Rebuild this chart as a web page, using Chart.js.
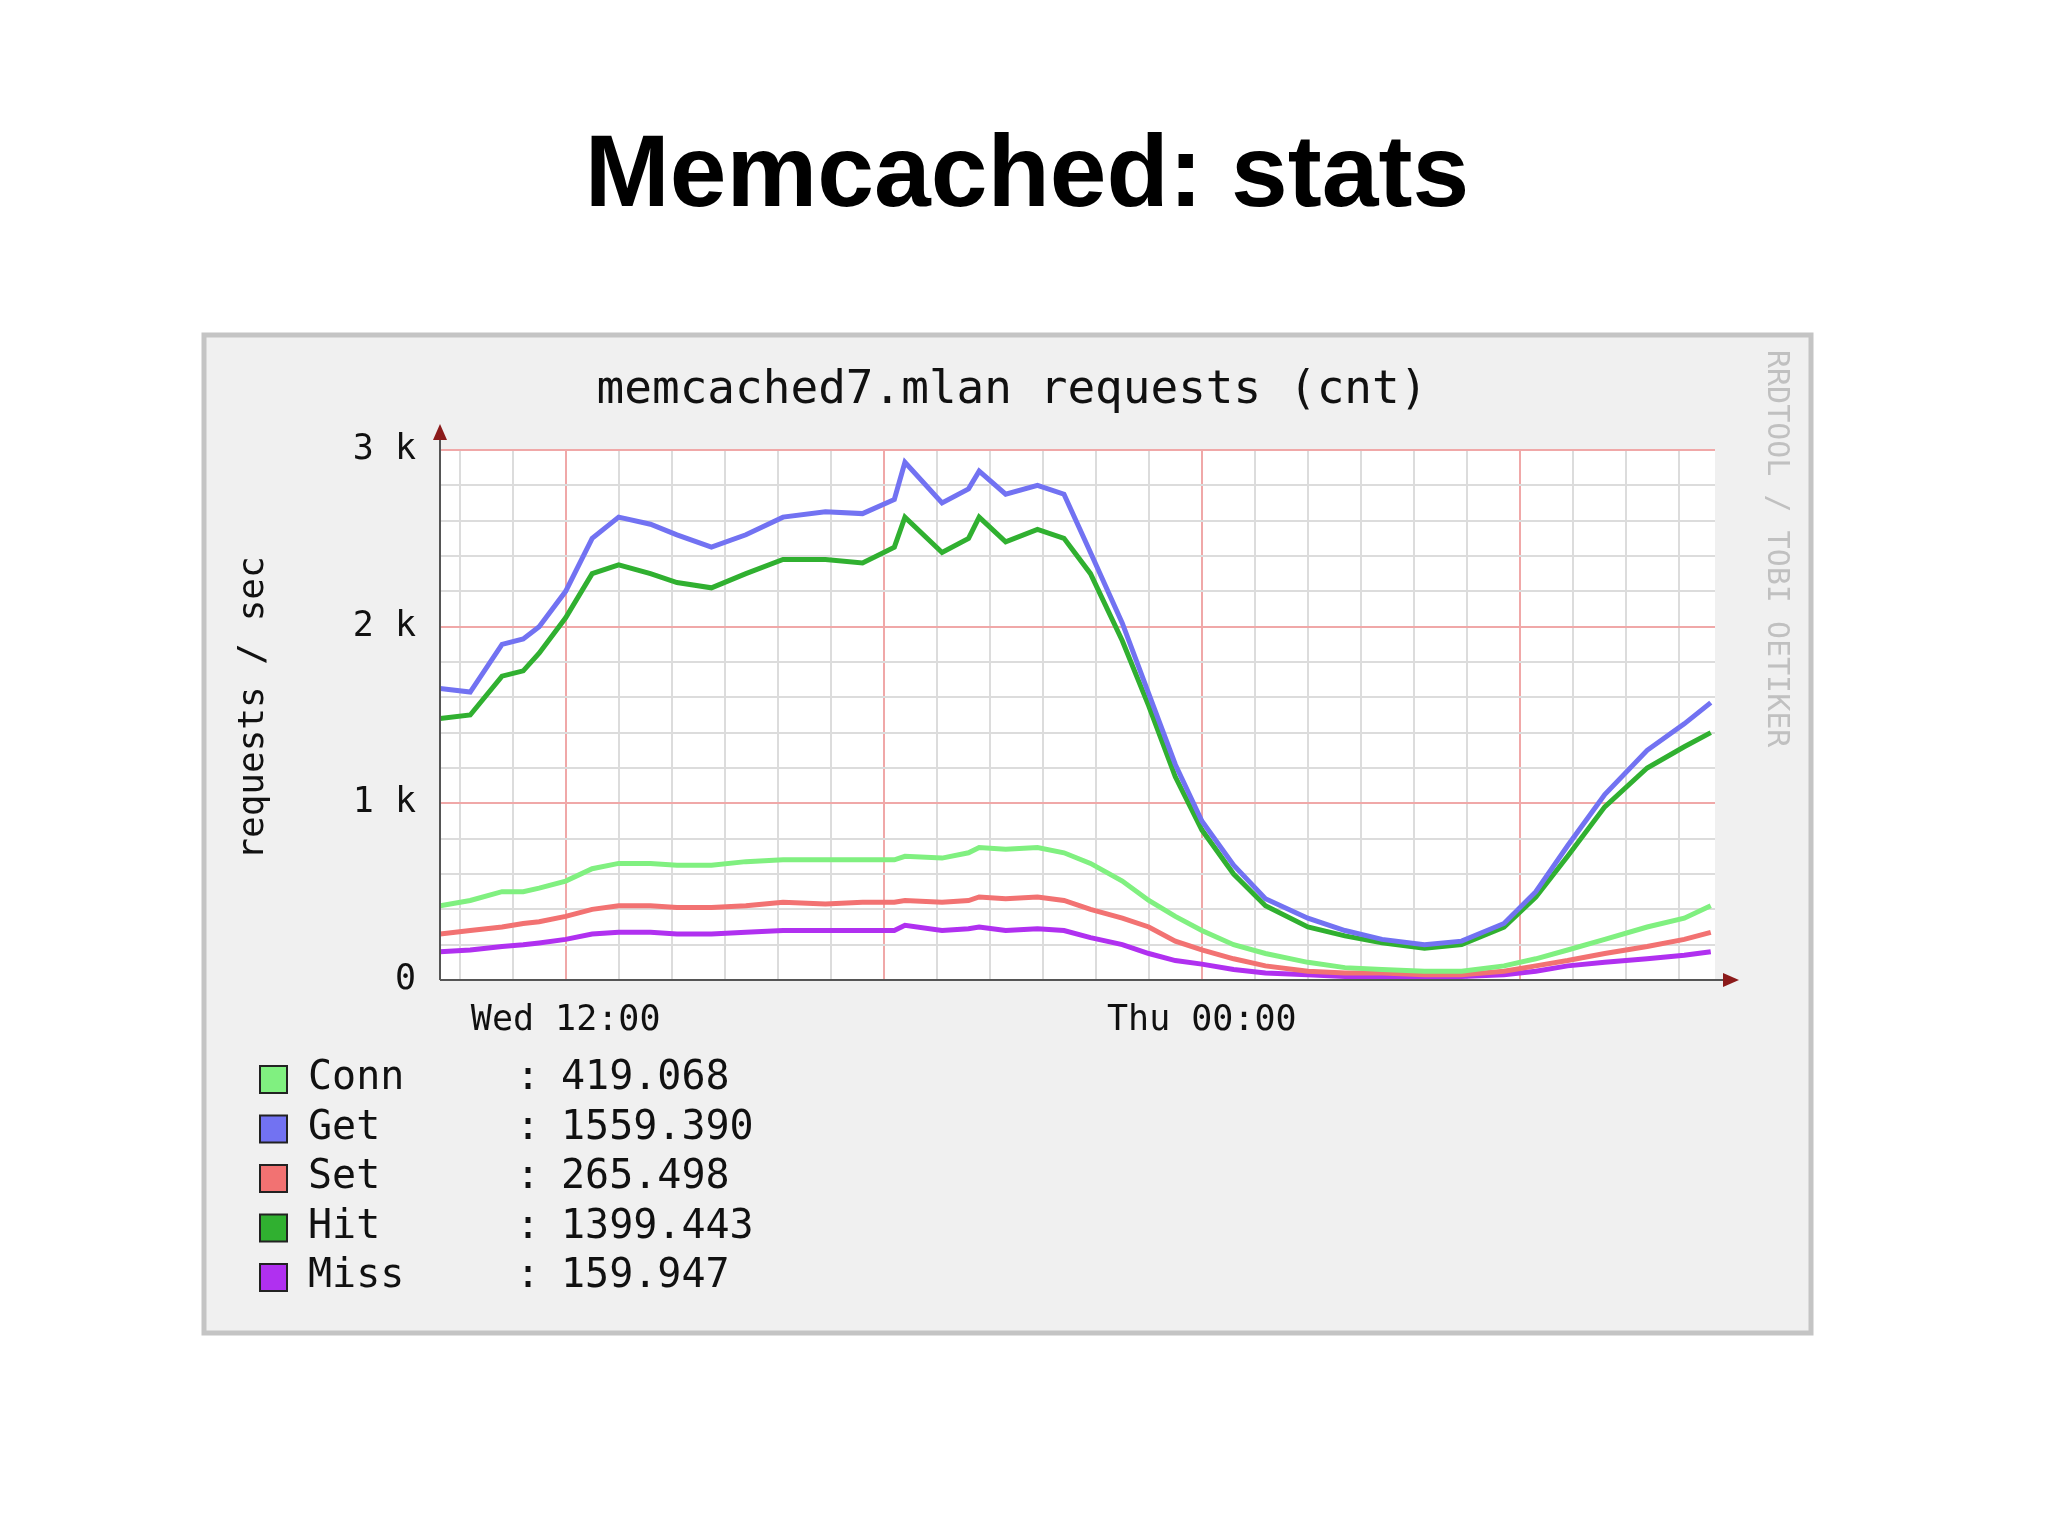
<!DOCTYPE html>
<html><head><meta charset="utf-8">
<script src="https://cdn.jsdelivr.net/npm/chart.js@4/dist/chart.umd.min.js"></script>
<style>html,body{margin:0;padding:0;background:#fff}#c{display:block}</style>
</head><body>
<div style="width:2048px;height:1536px"><canvas id="c"></canvas></div>
<script>
const hours = [9.63,10.2,10.8,11.2,11.5,12,12.5,13,13.6,14.1,14.75,15.4,16.1,16.9,17.6,18.2,18.4,19.1,19.6,19.8,20.3,20.9,21.4,21.9,22.5,23,23.5,24,24.6,25.2,26,26.7,27.4,28.2,28.9,29.7,30.3,30.9,31.6,32.4,33.1,33.6];
const getK  = [1.65,1.63,1.9,1.93,2.0,2.2,2.5,2.62,2.58,2.52,2.45,2.52,2.62,2.65,2.64,2.72,2.93,2.70,2.78,2.88,2.75,2.8,2.75,2.42,2.02,1.62,1.22,0.9,0.65,0.46,0.35,0.28,0.23,0.2,0.22,0.32,0.5,0.76,1.05,1.3,1.45,1.57];
const hitK  = [1.48,1.5,1.72,1.75,1.85,2.05,2.3,2.35,2.3,2.25,2.22,2.3,2.38,2.38,2.36,2.45,2.62,2.42,2.5,2.62,2.48,2.55,2.5,2.3,1.92,1.55,1.15,0.85,0.6,0.42,0.3,0.25,0.21,0.18,0.2,0.3,0.47,0.7,0.98,1.2,1.32,1.4];
const connK = [0.42,0.45,0.5,0.5,0.52,0.56,0.63,0.66,0.66,0.65,0.65,0.67,0.68,0.68,0.68,0.68,0.7,0.69,0.72,0.75,0.74,0.75,0.72,0.66,0.56,0.45,0.36,0.28,0.2,0.15,0.1,0.07,0.06,0.05,0.05,0.08,0.12,0.17,0.23,0.3,0.35,0.42];
const setK  = [0.26,0.28,0.3,0.32,0.33,0.36,0.4,0.42,0.42,0.41,0.41,0.42,0.44,0.43,0.44,0.44,0.45,0.44,0.45,0.47,0.46,0.47,0.45,0.4,0.35,0.3,0.22,0.17,0.12,0.08,0.05,0.04,0.04,0.03,0.03,0.05,0.08,0.11,0.15,0.19,0.23,0.27];
const missK = [0.16,0.17,0.19,0.2,0.21,0.23,0.26,0.27,0.27,0.26,0.26,0.27,0.28,0.28,0.28,0.28,0.31,0.28,0.29,0.3,0.28,0.29,0.28,0.24,0.2,0.15,0.11,0.09,0.06,0.04,0.03,0.02,0.02,0.02,0.02,0.03,0.05,0.08,0.1,0.12,0.14,0.16];
const xTickLabels = {12:'Wed 12:00', 24:'Thu 00:00'};
const yTickLabels = {0:'0', 1:'1 k', 2:'2 k', 3:'3 k'};
const legendNames = ['Conn','Get','Set','Hit','Miss'];
const legendValues = ['419.068','1559.390','265.498','1399.443','159.947'];
const COL = {Conn:'#80f080',Get:'#7272f2',Set:'#f27272',Hit:'#30b030',Miss:'#b030f0'};

const pts = a => hours.map((h,i)=>({x:h,y:a[i]}));
const ds = (name,arr)=>({label:name,data:pts(arr),borderColor:COL[name],borderWidth:5,pointRadius:0,tension:0,fill:false});
const MONO = '"DejaVu Sans Mono", monospace';

const deco = {
  id:'deco',
  beforeDraw(ch){
    const c=ch.ctx, a=ch.chartArea;
    c.save();
    c.fillStyle='#fff';c.fillRect(0,0,2048,1536);
    c.fillStyle='#000';c.font='bold 102px "Liberation Sans", Arial, sans-serif';
    c.textAlign='center';c.textBaseline='middle';
    c.fillText('Memcached: stats',1027,178);
    c.fillStyle='#f0f0f0';c.fillRect(202,333,1611,1002);
    c.strokeStyle='#c4c4c4';c.lineWidth=5;c.strokeRect(204,335,1607,998);
    c.fillStyle='#fff';c.fillRect(a.left,a.top,a.right-a.left,a.bottom-a.top);
    c.restore();
  },
  afterDraw(ch){
    const c=ch.ctx, a=ch.chartArea;
    c.save();
    c.fillStyle='#111';c.font='46px '+MONO;c.textAlign='center';c.textBaseline='middle';
    c.fillText('memcached7.mlan requests (cnt)',1012,391);
    c.save();c.translate(254,708);c.rotate(-Math.PI/2);
    c.font='36px '+MONO;c.fillText('requests / sec',0,0);c.restore();
    c.save();c.translate(1776,350);c.rotate(Math.PI/2);
    c.fillStyle='#c0c0c0';c.font='30px '+MONO;c.textAlign='left';
    c.fillText('RRDTOOL / TOBI OETIKER',0,0);c.restore();
    c.strokeStyle='#555';c.lineWidth=2;
    c.beginPath();c.moveTo(a.left,a.bottom);c.lineTo(a.right+8,a.bottom);
    c.moveTo(a.left,a.bottom);c.lineTo(a.left,a.top-10);c.stroke();
    c.fillStyle='#8b1a1a';
    c.beginPath();c.moveTo(a.left-7,a.top-10);c.lineTo(a.left+7,a.top-10);c.lineTo(a.left,a.top-26);c.fill();
    c.beginPath();c.moveTo(a.right+8,a.bottom-7);c.lineTo(a.right+8,a.bottom+7);c.lineTo(a.right+24,a.bottom);c.fill();
    c.font='40px '+MONO;c.textAlign='left';c.textBaseline='middle';
    legendNames.forEach((n,i)=>{
      const y=1079+i*49.5;
      c.fillStyle=COL[n];c.fillRect(260,y-13,27,27);
      c.strokeStyle='#222';c.lineWidth=2;c.strokeRect(260,y-13,27,27);
      c.fillStyle='#111';
      c.fillText(n,308,y);c.fillText(':',516,y);c.fillText(legendValues[i],561,y);
    });
    c.restore();
  }
};

new Chart(document.getElementById('c'),{
  type:'line',
  data:{datasets:[ds('Conn',connK),ds('Set',setK),ds('Miss',missK),ds('Get',getK),ds('Hit',hitK)]},
  options:{
    responsive:true,maintainAspectRatio:false,animation:false,
    layout:{padding:{left:320,top:450,right:333,bottom:476}},
    plugins:{legend:{display:false},tooltip:{enabled:false}},
    scales:{
      x:{type:'linear',min:9.63,max:33.68,
        afterBuildTicks(s){const t=[];for(let h=10;h<=33;h++)t.push({value:h});s.ticks=t;},
        afterFit(s){s.height=80;},
        border:{display:false},
        grid:{color:ctx=>ctx.tick&&ctx.tick.value%6===0?'#f0a8a8':'#dcdcdc',lineWidth:2,drawTicks:false},
        ticks:{autoSkip:false,maxRotation:0,padding:20,color:'#111',font:{family:MONO,size:35},
          callback:v=>xTickLabels[v]||''}},
      y:{min:0,max:3,
        afterBuildTicks(s){const t=[];for(let i=0;i<=15;i++)t.push({value:Math.round(i*0.2*10)/10});s.ticks=t;},
        afterFit(s){s.width=120;},
        border:{display:false},
        grid:{color:ctx=>ctx.tick&&Number.isInteger(ctx.tick.value)?'#f0a8a8':'#dcdcdc',lineWidth:2,drawTicks:false},
        ticks:{autoSkip:false,padding:24,color:'#111',font:{family:MONO,size:35},
          callback:v=>yTickLabels[v]!==undefined?yTickLabels[v]:''}}
    }
  },
  plugins:[deco]
});
</script>
</body></html>
